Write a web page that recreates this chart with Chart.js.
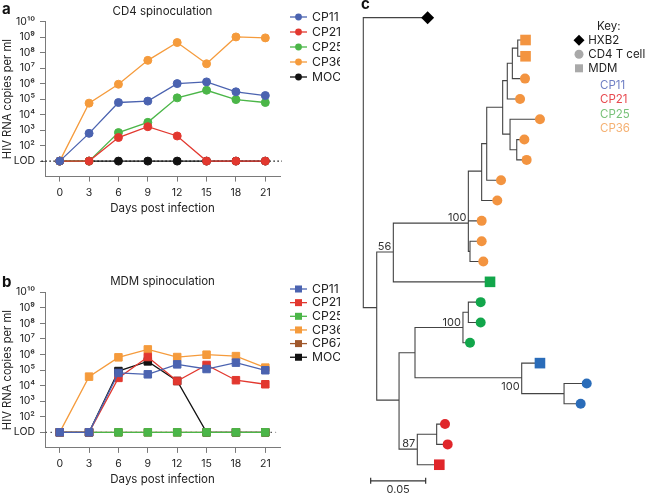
<!DOCTYPE html>
<html>
<head>
<meta charset="utf-8">
<script src="https://cdn.jsdelivr.net/npm/chart.js@4.4.1/dist/chart.umd.min.js"></script>
<style>
body { margin: 0; background: #fff; }
#wrap { position: relative; width: 646px; height: 493px; overflow: hidden; }
canvas { position: absolute; }
</style>
</head>
<body>
<div id="wrap">
<canvas id="chartA" width="340" height="240" style="left:0;top:0;width:340px;height:240px"></canvas>
<canvas id="chartB" width="340" height="223" style="left:0;top:270px;width:340px;height:223px"></canvas>
<canvas id="chartC" width="306" height="493" style="left:340px;top:0;width:306px;height:493px"></canvas>
</div>
<script>
// ---------- panel a / b data (log10 HIV RNA copies per ml, 1 = LOD) ----------
const days = [0, 3, 6, 9, 12, 15, 18, 21];
const yTicks = [1, 2, 3, 4, 5, 6, 7, 8, 9, 10];

const cd4Labels = ['CP11', 'CP21', 'CP25', 'CP36', 'MOCK'];
const cd4CP11 = [1, 2.79, 4.78, 4.87, 6.0, 6.11, 5.47, 5.23];
const cd4CP21 = [1, 1, 2.52, 3.22, 2.62, 1, 1, 1];
const cd4CP25 = [1, 1, 2.84, 3.5, 5.08, 5.57, 4.97, 4.78];
const cd4CP36 = [1, 4.74, 5.96, 7.5, 8.65, 7.28, 9.01, 8.95];
const cd4MOCK = [1, 1, 1, 1, 1, 1, 1, 1];

const mdmLabels = ['CP11', 'CP21', 'CP25', 'CP36', 'CP67', 'MOCK'];
const mdmCP11 = [1, 1, 4.82, 4.73, 5.37, 5.07, 5.48, 4.99];
const mdmCP21 = [1, 1, 4.5, 5.84, 4.3, 5.33, 4.35, 4.09];
const mdmCP25 = [1, 1, 1, 1, 1, 1, 1, 1];
const mdmCP36 = [1, 4.58, 5.82, 6.33, 5.84, 5.99, 5.9, 5.16];
const mdmCP67 = [1, 1, 1, 1, 1, 1, 1, 1];
const mdmMOCK = [1, 1, 4.94, 5.56, 4.3, 1, 1, 1];

// ---------- panel c data: tree ----------
// internal nodes: parent, depth (substitutions per site), row
const nodeName   = ['root', 'n1', 'n56', 'o100', 'oI', 'oG', 'oF', 'oC', 'oB', 'oA', 'oS', 'oD', 'oE', 'n3', 'n4', 'g100', 'gS', 'b100', 'bS', 'r87', 'rS'];
const nodeParent = [null, 'root', 'n1', 'n56', 'o100', 'o100', 'oG', 'oF', 'oC', 'oB', 'oA', 'oC', 'oD', 'n1', 'n3', 'n4', 'g100', 'n4', 'b100', 'n3', 'r87'];
const nodeDepth  = [0, 0.0122, 0.0273, 0.0955, 0.0970, 0.1076, 0.1122, 0.1267, 0.1309, 0.1355, 0.1404, 0.1334, 0.1395, 0.0325, 0.0470, 0.0906, 0.0955, 0.1440, 0.1825, 0.0491, 0.0667];
const nodeRow    = [7, 14.27, 11.53, 10.11, 11.5, 7.55, 6.2, 4.41, 3.1, 2.24, 1.5, 5.73, 6.5, 18.82, 16.49, 15.25, 14.5, 17.72, 18.5, 21.23, 20.5];

// tips
const tipParent = ['root', 'oS', 'oS', 'oA', 'oB', 'oD', 'oE', 'oE', 'oF', 'oG', 'o100', 'oI', 'oI', 'n56', 'gS', 'gS', 'g100', 'b100', 'bS', 'bS', 'rS', 'rS', 'r87'];
const tipDepth  = [0.0585, 0.1475, 0.1475, 0.1470, 0.1425, 0.1606, 0.1464, 0.1485, 0.1252, 0.1218, 0.1076, 0.1076, 0.1091, 0.1152, 0.1067, 0.1067, 0.0970, 0.1606, 0.2031, 0.1976, 0.0743, 0.0767, 0.0691];
const tipRow    = [0, 1.1, 1.9, 3, 4, 5, 6, 7, 8, 9, 10, 11, 12, 13, 14, 15, 16, 17, 18, 19, 20, 21, 22];
const tipSample = ['HXB2', 'CP36', 'CP36', 'CP36', 'CP36', 'CP36', 'CP36', 'CP36', 'CP36', 'CP36', 'CP36', 'CP36', 'CP36', 'CP25', 'CP25', 'CP25', 'CP25', 'CP11', 'CP11', 'CP11', 'CP21', 'CP21', 'CP21'];
const tipCell   = ['HXB2', 'MDM', 'MDM', 'CD4', 'CD4', 'CD4', 'CD4', 'CD4', 'CD4', 'CD4', 'CD4', 'CD4', 'CD4', 'MDM', 'CD4', 'CD4', 'CD4', 'MDM', 'CD4', 'CD4', 'CD4', 'CD4', 'MDM'];

const bootNode  = ['o100', 'n56', 'g100', 'b100', 'r87'];
const bootValue = ['100', '56', '100', '100', '87'];
const bootBelow = [false, false, false, true, false];

const scaleBarStart = 0.0067;
const scaleBarLength = 0.05;
const scaleBarRow = 22.79;

const keyCells = ['HXB2', 'CD4 T cells', 'MDM'];
const keySamples = ['CP11', 'CP21', 'CP25', 'CP36'];

// ---------- styles ----------
const fontFamily = "Inter, 'DejaVu Sans', sans-serif";
const textColor = '#222222';
const axisColor = '#7a7a7a';
const lineColors = { CP11: '#4b63b0', CP21: '#e2382f', CP25: '#4bb648', CP36: '#f59b3c', CP67: '#a0582c', MOCK: '#111111' };
const treeColors = { CP11: '#2a6cb9', CP21: '#e0262a', CP25: '#12a64b', CP36: '#f39440', HXB2: '#000000' };
const keyTextColors = { CP11: '#6f7fc4', CP21: '#e84a50', CP25: '#79c27a', CP36: '#f5b173' };

const sup = { '0': '\u2070', '1': '\u00b9', '2': '\u00b2', '3': '\u00b3', '4': '\u2074', '5': '\u2075', '6': '\u2076', '7': '\u2077', '8': '\u2078', '9': '\u2079' };

function tickLabel(v) {
    if (v === 1) {
        return 'LOD';
    }
    let s = '10';
    String(v).split('').forEach(function(c) { s = s + sup[c]; });
    return s;
}

function lineSet(label, values, style, radius) {
    let color = lineColors[label];
    return {
        label: label,
        data: values.map(function(v, i) { return { x: days[i], y: v }; }),
        borderColor: color,
        backgroundColor: color,
        pointBackgroundColor: color,
        pointBorderColor: color,
        borderWidth: 1.3,
        pointStyle: style,
        pointRadius: radius,
        pointBorderWidth: 1,
        clip: false
    };
}

function lodSet(x0, x1, color, dash) {
    return {
        label: 'LOD',
        data: [{ x: x0, y: 1 }, { x: x1, y: 1 }],
        borderColor: color,
        borderDash: dash,
        borderWidth: 1.2,
        pointRadius: 0,
        clip: false
    };
}

function sidePlugin(letter, letterY, legendTop, legendStep, square) {
    return {
        id: 'side' + letter,
        afterDraw: function(chart) {
            let ctx = chart.ctx;
            ctx.save();
            ctx.fillStyle = '#111';
            ctx.font = 'bold 15px ' + fontFamily;
            ctx.textBaseline = 'alphabetic';
            ctx.fillText(letter, 2, letterY);

            ctx.font = '12.2px ' + fontFamily;
            ctx.textBaseline = 'middle';
            let i = 0;
            chart.data.datasets.forEach(function(ds) {
                if (ds.label === 'LOD') {
                    return;
                }
                let y = legendTop + i * legendStep;
                ctx.strokeStyle = ds.borderColor;
                ctx.fillStyle = ds.borderColor;
                ctx.lineWidth = 1.3;
                ctx.beginPath();
                ctx.moveTo(290, y);
                ctx.lineTo(307, y);
                ctx.stroke();
                if (square) {
                    ctx.fillRect(298.5 - 3.5, y - 3.5, 7, 7);
                } else {
                    ctx.beginPath();
                    ctx.arc(298.5, y, 3.4, 0, Math.PI * 2);
                    ctx.fill();
                }
                ctx.fillStyle = textColor;
                ctx.fillText(ds.label, 312, y);
                i = i + 1;
            });
            ctx.restore();
        }
    };
}

function lineOptions(title, titlePad, bottomPad) {
    return {
        responsive: false,
        animation: false,
        events: [],
        layout: { padding: { left: 0, right: 60, top: 0, bottom: bottomPad } },
        plugins: {
            legend: { display: false },
            tooltip: { enabled: false },
            title: {
                display: true,
                text: title,
                fullSize: false,
                color: textColor,
                padding: titlePad,
                font: { family: fontFamily, size: 11.5, weight: 'normal' }
            }
        },
        scales: {
            x: {
                type: 'linear',
                min: -1.5,
                max: 22.5,
                afterBuildTicks: function(axis) { axis.ticks = days.map(function(d) { return { value: d }; }); },
                afterFit: function(axis) { axis.height = 40; },
                grid: { drawOnChartArea: false, tickLength: 5, color: axisColor },
                border: { color: axisColor, width: 1 },
                ticks: { autoSkip: false, padding: 5, color: textColor, font: { family: fontFamily, size: 10.5 } },
                title: {
                    display: true,
                    text: 'Days post infection',
                    color: textColor,
                    padding: { top: 0, bottom: 1 },
                    font: { family: fontFamily, size: 11.5 }
                }
            },
            y: {
                type: 'linear',
                min: 0,
                max: 10,
                afterBuildTicks: function(axis) { axis.ticks = yTicks.map(function(v) { return { value: v }; }); },
                afterFit: function(axis) { axis.width = 45; },
                grid: { drawOnChartArea: false, tickLength: 5, color: axisColor },
                border: { color: axisColor, width: 1 },
                ticks: {
                    autoSkip: false,
                    padding: 5,
                    color: textColor,
                    font: { family: fontFamily, size: 10.5 },
                    callback: function(v) { return tickLabel(v); }
                },
                title: {
                    display: true,
                    text: 'HIV RNA copies per ml',
                    color: textColor,
                    padding: { top: 1, bottom: 0 },
                    font: { family: fontFamily, size: 11.2 }
                }
            }
        }
    };
}

// ---------- panel a ----------
new Chart(document.getElementById('chartA'), {
    type: 'line',
    data: {
        datasets: [
            lineSet('CP11', cd4CP11, 'circle', 4),
            lineSet('CP21', cd4CP21, 'circle', 4),
            lineSet('CP25', cd4CP25, 'circle', 4),
            lineSet('CP36', cd4CP36, 'circle', 4),
            lineSet('MOCK', cd4MOCK, 'circle', 4),
            lodSet(-1.87, 22.7, '#111', [1.5, 2.5])
        ]
    },
    options: lineOptions('CD4 spinoculation', { top: 4.4, bottom: 3.4 }, 23.4),
    plugins: [sidePlugin('a', 14, 17, 15, false)]
});

// ---------- panel b ----------
new Chart(document.getElementById('chartB'), {
    type: 'line',
    data: {
        datasets: [
            lineSet('CP11', mdmCP11, 'rect', 5.3),
            lineSet('CP21', mdmCP21, 'rect', 5.3),
            lineSet('CP25', mdmCP25, 'rect', 5.3),
            lineSet('CP36', mdmCP36, 'rect', 5.3),
            lineSet('CP67', mdmCP67, 'rect', 5.3),
            lineSet('MOCK', mdmMOCK, 'rect', 5.3),
            lodSet(-1.45, 22.1, '#555', [1.5, 3.5])
        ]
    },
    options: lineOptions('MDM spinoculation', { top: 5, bottom: 3.5 }, 5.1),
    plugins: [sidePlugin('b', 16.7, 19, 13.65, true)]
});

// ---------- panel c: tree ----------
function nodePos(name) {
    let k = nodeName.indexOf(name);
    return { x: nodeDepth[k], y: nodeRow[k] };
}

let branchData = [];
function addElbow(parentName, cx, cy) {
    let p = nodePos(parentName);
    branchData.push({ x: p.x, y: p.y });
    branchData.push({ x: p.x, y: cy });
    branchData.push({ x: cx, y: cy });
    branchData.push({ x: cx, y: null });
}
for (let i = 0; i < nodeName.length; i++) {
    if (nodeParent[i] !== null) {
        addElbow(nodeParent[i], nodeDepth[i], nodeRow[i]);
    }
}
for (let i = 0; i < tipParent.length; i++) {
    addElbow(tipParent[i], tipDepth[i], tipRow[i]);
}

let markerSets = [];
let groups = {};
for (let i = 0; i < tipParent.length; i++) {
    let key = tipSample[i] + '_' + tipCell[i];
    if (!groups[key]) {
        let style = 'circle';
        let radius = 5;
        if (tipCell[i] === 'MDM') { style = 'rect'; radius = 7.5; }
        if (tipCell[i] === 'HXB2') { style = 'rectRot'; radius = 6.5; }
        groups[key] = {
            label: key,
            data: [],
            showLine: false,
            pointStyle: style,
            pointRadius: radius,
            pointBackgroundColor: treeColors[tipSample[i]],
            pointBorderColor: treeColors[tipSample[i]],
            pointBorderWidth: 0,
            clip: false
        };
        markerSets.push(groups[key]);
    }
    groups[key].data.push({ x: tipDepth[i], y: tipRow[i] });
}

let treeSets = markerSets.concat([
    {
        label: 'scale',
        data: [{ x: scaleBarStart, y: scaleBarRow }, { x: scaleBarStart + scaleBarLength, y: scaleBarRow }],
        showLine: true,
        borderColor: '#333',
        borderWidth: 1.2,
        pointStyle: 'line',
        rotation: 90,
        pointRadius: 3,
        pointBorderColor: '#333',
        pointBorderWidth: 1.2,
        clip: false
    },
    {
        label: 'branches',
        data: branchData,
        showLine: true,
        spanGaps: false,
        borderColor: '#444',
        borderWidth: 1.1,
        pointRadius: 0,
        clip: false
    }
]);

const treePlugin = {
    id: 'treeText',
    afterDraw: function(chart) {
        let ctx = chart.ctx;
        let xs = chart.scales.x;
        let ys = chart.scales.y;
        ctx.save();
        ctx.fillStyle = '#111';
        ctx.font = 'bold 15px ' + fontFamily;
        ctx.textBaseline = 'alphabetic';
        ctx.fillText('c', 21, 9);

        // bootstrap values
        ctx.font = '11px ' + fontFamily;
        ctx.fillStyle = '#333';
        ctx.textAlign = 'right';
        for (let i = 0; i < bootNode.length; i++) {
            let p = nodePos(bootNode[i]);
            let px = xs.getPixelForValue(p.x) - 2;
            let py = ys.getPixelForValue(p.y);
            ctx.fillText(bootValue[i], px, bootBelow[i] ? py + 12 : py - 2);
        }

        // scale bar label
        ctx.textAlign = 'center';
        let mid = xs.getPixelForValue(scaleBarStart + scaleBarLength / 2);
        ctx.fillText('0.05', mid, 492.5);

        // key
        ctx.fillStyle = textColor;
        ctx.font = '11.5px ' + fontFamily;
        ctx.textBaseline = 'middle';
        ctx.fillText('Key:', 268.8, 26.7);
        ctx.textAlign = 'left';
        let keyY = [40.3, 54.3, 68.3];
        for (let i = 0; i < keyCells.length; i++) {
            let y = keyY[i];
            if (i === 0) {
                ctx.fillStyle = '#000';
                ctx.beginPath();
                ctx.moveTo(239, y - 5.5);
                ctx.lineTo(244.5, y);
                ctx.lineTo(239, y + 5.5);
                ctx.lineTo(233.5, y);
                ctx.closePath();
                ctx.fill();
            } else if (i === 1) {
                ctx.fillStyle = '#a9a9a9';
                ctx.beginPath();
                ctx.arc(239, y, 4.5, 0, Math.PI * 2);
                ctx.fill();
            } else {
                ctx.fillStyle = '#a9a9a9';
                ctx.fillRect(235, y - 4, 8, 8);
            }
            ctx.fillStyle = textColor;
            ctx.fillText(keyCells[i], 248.3, y);
        }
        for (let i = 0; i < keySamples.length; i++) {
            ctx.fillStyle = keyTextColors[keySamples[i]];
            ctx.fillText(keySamples[i], 260, 85.7 + i * 14.3);
        }
        ctx.restore();
    }
};

new Chart(document.getElementById('chartC'), {
    type: 'scatter',
    data: { datasets: treeSets },
    options: {
        responsive: false,
        animation: false,
        events: [],
        layout: { padding: { left: 23.3, right: 7.7, top: 6.83, bottom: 7.95 } },
        plugins: { legend: { display: false }, tooltip: { enabled: false } },
        scales: {
            x: { type: 'linear', min: 0, max: 0.25, display: false },
            y: { type: 'linear', min: -0.5, max: 23, reverse: true, display: false }
        }
    },
    plugins: [treePlugin]
});
</script>
</body>
</html>
